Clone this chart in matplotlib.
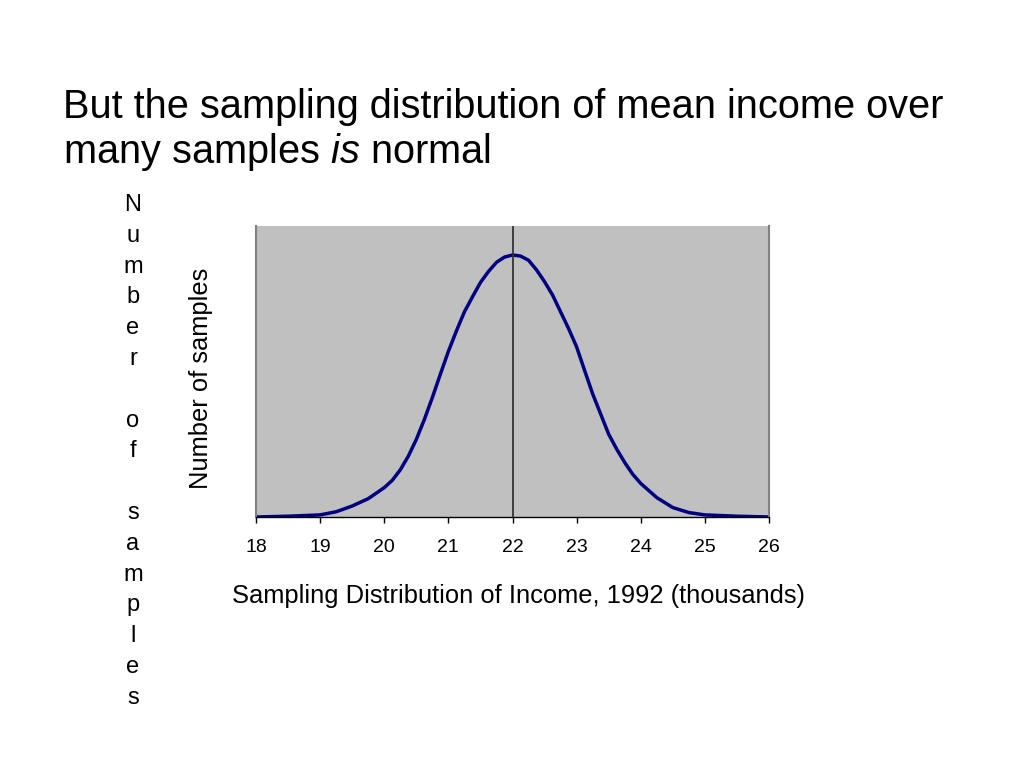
import matplotlib
matplotlib.use("Agg")
from matplotlib import pyplot as plt

plt.rcParams['font.family'] = ['Liberation Sans', 'DejaVu Sans']
plt.rcParams['mathtext.fontset'] = 'custom'
plt.rcParams['mathtext.rm'] = 'Liberation Sans'
plt.rcParams['mathtext.it'] = 'Liberation Sans:italic'

# values (relative number of samples, peak = 1000)
income = [18, 18.5, 19, 19.25, 19.5, 19.75, 20, 20.125, 20.25, 20.375, 20.5,
          20.625, 20.75, 20.875, 21, 21.125, 21.25, 21.375, 21.5, 21.625,
          21.75, 21.875, 22, 22.125, 22.25, 22.375, 22.5, 22.625, 22.75,
          22.875, 23, 23.125, 23.25, 23.375, 23.5, 23.625, 23.75, 23.875, 24,
          24.25, 24.5, 24.75, 25, 25.5, 26]
samples = [0, 3, 8, 20, 42, 70, 112, 140, 180, 232, 296,
           372, 456, 545, 632, 710, 783, 840, 895, 937,
           972, 992, 1000, 996, 980, 943, 898, 847, 783,
           719, 649, 559, 470, 393, 316, 259, 208, 163, 128,
           74, 36, 17, 8, 3, 0]
mean_income = 22
x_ticks = [18, 19, 20, 21, 22, 23, 24, 25, 26]

title_line1 = "But the sampling distribution of mean income over"
title_line2 = "many samples $\\it{is}$ normal"
side_label = "Number of samples"

fig = plt.figure(figsize=(10.24, 7.68), dpi=100)
ax = fig.add_axes([256 / 1024, 1 - 517 / 768, 513 / 1024, 291 / 768])

ax.set_facecolor('#c0c0c0')
ax.plot(income, samples, color='#000080', lw=2.5, solid_joinstyle='round')
ax.axvline(mean_income, color='#333333', lw=1.3)

ax.set_xlim(18, 26)
ax.set_ylim(0, 1000 * 291 / 262)
ax.set_xticks(x_ticks)
ax.set_xticklabels([str(t) for t in x_ticks], fontsize=14)
ax.set_yticks([])
ax.tick_params(axis='x', direction='out', length=4, width=1, pad=12, color='black')

ax.spines['top'].set_visible(False)
ax.spines['left'].set_color('#808080')
ax.spines['left'].set_linewidth(1.5)
ax.spines['right'].set_color('#808080')
ax.spines['right'].set_linewidth(1.5)
ax.spines['bottom'].set_color('black')
ax.spines['bottom'].set_linewidth(1)

fig.text(519 / 1024, 1 - 596 / 768, "Sampling Distribution of Income, 1992 (thousands)",
         fontsize=18.4, ha='center', va='center')
fig.text(201 / 1024, 1 - 378 / 768, "Number of samples", fontsize=18.4,
         rotation=90, ha='center', va='center')

fig.text(63 / 1024, 1 - 118 / 768, title_line1, fontsize=28.6, ha='left', va='baseline')
fig.text(63 / 1024, 1 - 163 / 768, title_line2, fontsize=28.6, ha='left', va='baseline')

# stacked letters down the left side
for i, ch in enumerate(side_label):
    if ch == ' ':
        continue
    y = 205 + i * 30.8
    fig.text(133 / 1024, 1 - y / 768, ch, fontsize=17, ha='center', va='center')

fig.savefig('out.png', dpi=100)
